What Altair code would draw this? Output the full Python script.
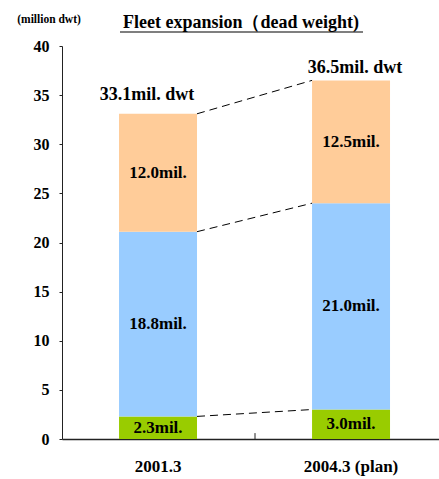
import altair as alt
import pandas as pd

# ---- data ----
periods = ["2001.3", "2004.3 (plan)"]
segments = ["bottom", "middle", "top"]
seg_bottom = [2.3, 3.0]
seg_middle = [18.8, 21.0]
seg_top = [12.0, 12.5]
lab_bottom = ["2.3mil.", "3.0mil."]
lab_middle = ["18.8mil.", "21.0mil."]
lab_top = ["12.0mil.", "12.5mil."]
totals = [33.1, 36.5]
total_labels = ["33.1mil. dwt", "36.5mil. dwt"]
y_ticks = [0, 5, 10, 15, 20, 25, 30, 35, 40]
colors = ["#99CC00", "#99CCFF", "#FFCC99"]
title_text = "Fleet expansion（dead weight)"
unit_text = "(million dwt)"

FONT = "Times New Roman, Liberation Serif, serif"

rows = []
for i, p in enumerate(periods):
    start = 0.0
    for seg, vals, labs in zip(segments, [seg_bottom, seg_middle, seg_top], [lab_bottom, lab_middle, lab_top]):
        end = round(start + vals[i], 2)
        rows.append({"period": p, "segment": seg, "start": start, "end": end,
                     "mid": (start + end) / 2, "label": labs[i]})
        start = end
df = pd.DataFrame(rows)

# connectors: tops of each segment from bar 1 to bar 2
conn = []
for seg in segments:
    a = df[(df.period == periods[0]) & (df.segment == seg)]["end"].iloc[0]
    b = df[(df.period == periods[1]) & (df.segment == seg)]["end"].iloc[0]
    conn.append({"from": periods[0], "to": periods[1], "y1": a, "y2": b})
conn_df = pd.DataFrame(conn)

tot_df = pd.DataFrame({"period": periods, "total": totals, "label": total_labels})

xscale = alt.Scale(domain=periods, paddingInner=0.596, paddingOuter=0.2746, align=0.538)
yscale = alt.Scale(domain=[0, 40])

xaxis = alt.Axis(title=None, labelAngle=0, ticks=False, labelPadding=19,
                 labelFont=FONT, labelFontSize=17, labelFontWeight="bold",
                 labelColor="black", domainColor="#222", domainWidth=1.5, grid=False)
yaxis = alt.Axis(title=None, values=y_ticks, tickSize=3, labelPadding=10,
                 labelFont=FONT, labelFontSize=16, labelFontWeight="bold",
                 labelColor="black", domainColor="#222", tickColor="#222",
                 grid=False)

bars = alt.Chart(df).mark_bar().encode(
    x=alt.X("period:N", scale=xscale, sort=periods, axis=xaxis, title=None),
    y=alt.Y("start:Q", scale=yscale, axis=yaxis, title=None),
    y2="end:Q",
    color=alt.Color("segment:N", scale=alt.Scale(domain=segments, range=colors), legend=None),
)

seg_text = alt.Chart(df).mark_text(font=FONT, fontSize=17, fontWeight="bold",
                                   color="black", baseline="middle").encode(
    x=alt.X("period:N", title=None),
    y=alt.Y("mid:Q", title=None),
    text="label:N",
)

connectors = alt.Chart(conn_df).mark_rule(strokeDash=[8, 5], color="black", strokeWidth=1).encode(
    x=alt.X("from:N", bandPosition=1, title=None),
    x2=alt.X2("to:N", bandPosition=0),
    y=alt.Y("y1:Q", title=None),
    y2="y2:Q",
)

mid_tick = alt.Chart(pd.DataFrame({"period": [periods[0]]})).mark_rule(color="#222", xOffset=58).encode(
    x=alt.X("period:N", bandPosition=1, title=None),
    y=alt.datum(0),
    y2=alt.datum(0.6),
)

tot1 = alt.Chart(tot_df).transform_filter(alt.datum.period == periods[0]).mark_text(
    font=FONT, fontSize=18, fontWeight="bold", color="black", baseline="alphabetic",
    dy=-14, dx=-11).encode(
    x=alt.X("period:N", title=None), y=alt.Y("total:Q", title=None), text="label:N")

tot2 = alt.Chart(tot_df).transform_filter(alt.datum.period == periods[1]).mark_text(
    font=FONT, fontSize=18, fontWeight="bold", color="black", baseline="alphabetic",
    dy=-7, dx=4).encode(
    x=alt.X("period:N", title=None), y=alt.Y("total:Q", title=None), text="label:N")

title = alt.Chart(pd.DataFrame({"t": [title_text]})).mark_text(
    font=FONT, fontSize=18, fontWeight="bold", color="black",
    align="center", baseline="alphabetic").encode(
    text="t:N", x=alt.value(179), y=alt.value(-18))

underline = alt.Chart(pd.DataFrame({"t": [title_text]})).mark_rule(
    color="black", strokeWidth=1.2).encode(
    x=alt.value(58), x2=alt.value(301), y=alt.value(-14))

unit = alt.Chart(pd.DataFrame({"t": [unit_text]})).mark_text(
    font=FONT, fontSize=11.5, fontWeight="bold", color="black",
    align="center", baseline="alphabetic").encode(
    text="t:N", x=alt.value(-13), y=alt.value(-23))

chart = alt.layer(bars, connectors, seg_text, mid_tick, tot1, tot2, title, underline, unit).properties(
    width=377, height=393,
    padding={"left": 62, "top": 46, "right": 0, "bottom": 40},
    autosize=alt.AutoSizeParams(type="none"),
    background="white",
).configure_view(stroke=None)

chart.save("out.html", embed_options={"renderer": "svg", "actions": False})
